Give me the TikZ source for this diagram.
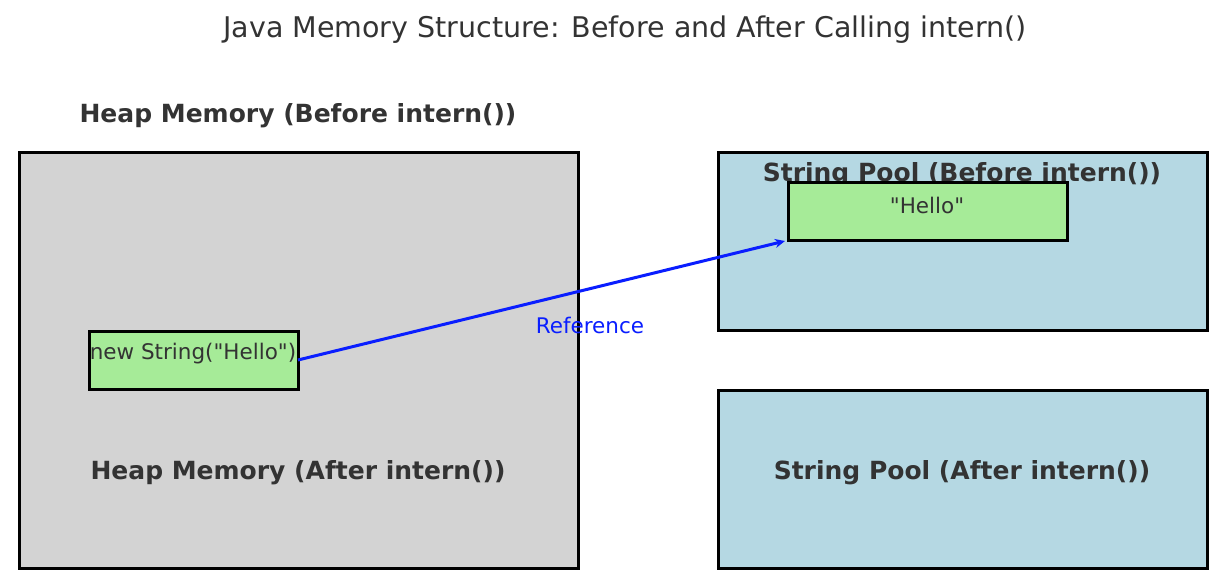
\documentclass[tikz,border=0pt]{standalone}
\usepackage{fontspec}
\setmainfont{DejaVu Sans}[Ligatures=TeXOff]
\usepackage{tikz}
\usetikzlibrary{arrows.meta}
\usetikzlibrary{positioning}
\definecolor{heapgray}{HTML}{D3D3D3}
\definecolor{poolblue}{HTML}{B5D8E3}
\definecolor{strgreen}{HTML}{A6EB98}
\definecolor{txtgray}{HTML}{333333}
\definecolor{refblue}{HTML}{0A1EFF}

\begin{document}
\begin{tikzpicture}[x=1pt,y=-1pt,
  membox/.style={draw=black,line width=3pt,inner sep=0pt,outer sep=0pt},
  boldlbl/.style={text=txtgray,font=\fontsize{25}{30}\selectfont\bfseries},
  plainlbl/.style={text=txtgray,font=\fontsize{21.5}{26}\selectfont},
  refarrow/.style={draw=refblue,line width=3pt,-{Stealth[length=10pt,width=9pt]}}]
\useasboundingbox (0,0) rectangle (1226,582);
\node[text=txtgray,font=\fontsize{28.5}{34}\selectfont] (title) at (625,30) {Java Memory Structure: Before and After Calling intern()};
\node[boldlbl] (heaptitle) at (298,116) {Heap Memory (Before intern())};
% boxes
\node[membox,fill=heapgray,minimum width=559pt,minimum height=416pt] (heap) at (298.5,360) {};
\node[membox,fill=poolblue,minimum width=489pt,minimum height=178pt] (poolbefore) at (962.5,241) {};
\node[membox,fill=poolblue,minimum width=489pt,minimum height=178pt] (poolafter) at (962.5,479) {};
\node[boldlbl] (pooltitle) at (962,175) {String Pool (Before intern())};
\node[boldlbl] (heapafter) at (298,473) {Heap Memory (After intern())};
\node[boldlbl] (poolafterlbl) at (962,473) {String Pool (After intern())};
% strings
\node[membox,fill=strgreen,minimum width=279pt,minimum height=58pt] (hello) at (927.5,211) {};
\node[plainlbl] (hellolbl) at (927,205) {"Hello"};
\node[membox,fill=strgreen,minimum width=209pt,minimum height=58pt] (newstr) at (193.5,360) {};
\node[plainlbl] (newstrlbl) at (193,354) {new String("Hello")};
\draw[refarrow] (newstr.east) -- ([xshift=-3pt,yshift=-1pt]hello.south west);
\node[text=refblue,font=\fontsize{21.5}{26}\selectfont] (reflbl) at (590,325) {Reference};
\end{tikzpicture}
\end{document}
